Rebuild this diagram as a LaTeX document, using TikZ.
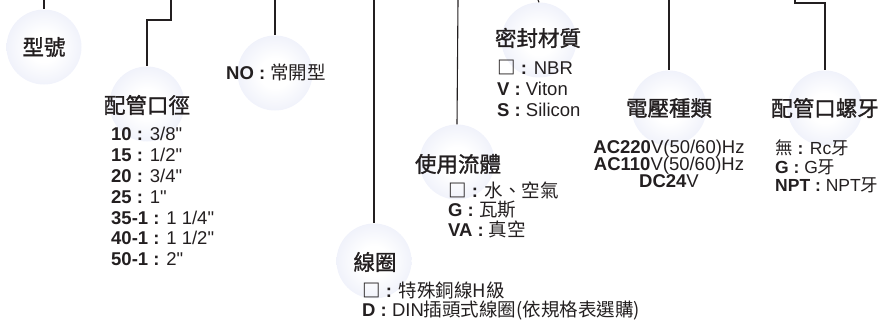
\documentclass[tikz,border=0pt]{standalone}
\usepackage{fontspec}
\setmainfont{Liberation Sans}
\newfontfamily\cjk{Noto Sans CJK TC}
\newfontfamily\cjkhead{Noto Sans CJK TC}[FakeBold=1.2]
\newfontfamily\inchfont{Liberation Sans}[Ligatures=ResetAll]
\usetikzlibrary{positioning}
\definecolor{ballblue}{RGB}{216,221,243}
\definecolor{inkgray}{RGB}{35,31,32}
\pgfdeclareradialshading{ballshade}{\pgfpoint{0bp}{0bp}}{color(0bp)=(white); color(10bp)=(white); color(50bp)=(ballblue)}
\newcommand{\zh}[1]{{\cjk #1}}
\newcommand{\code}[1]{\textbf{#1 :} }
\newcommand{\inch}{{\inchfont\symbol{34}}}
\tikzset{
  ball/.style={circle, minimum size=75pt, inner sep=0pt, shading=ballshade},
  title/.style={font=\cjkhead\fontsize{21.5}{24}\selectfont, text=inkgray, inner sep=0pt},
  item/.style={font=\fontsize{18.5}{20}\selectfont, text=inkgray, inner sep=0pt,
    text height=13pt, text depth=3pt},
  wire/.style={draw=inkgray, line width=1.1pt}
}
\begin{document}
\begin{tikzpicture}[x=1pt, y=-1pt]
    \useasboundingbox (0,0) rectangle (885,322);
    % Draw balls
    \node[ball] (b1) at (44,47) {};
    \node[ball] (b2) at (147,104) {};
    \node[ball] (b3) at (275,73) {};
    \node[ball] (b4) at (374,261) {};
    \node[ball] (b5) at (457,162) {};
    \node[ball] (b6) at (539,40) {};
    \node[ball] (b7) at (669,108) {};
    \node[ball] (b8) at (825,108) {};
    % Draw wires from the top edge
    \coordinate (top1) at (44,0);
    \coordinate (top2) at (171,0);
    \coordinate (top3) at (275,0);
    \coordinate (top4) at (374,0);
    \coordinate (top5) at (458,0);
    \coordinate (top6) at (538,0);
    \coordinate (top7) at (669,0);
    \coordinate (top8) at (795,0);
    \draw[wire] (top1) -- (b1.north);
    \draw[wire] (top2) -- ++(0,20) -| (b2.north);
    \draw[wire] (top3) -- (b3.north);
    \draw[wire] (top4) -- (b4.north);
    \draw[wire] (top5) -- (b5.north);
    \draw[wire] (top6) -- (b6.north);
    \draw[wire] (top7) -- (b7.north);
    \draw[wire] (top8) -- ++(0,3) -| (b8.north);
    % Draw titles
    \node[title] (t1) at (44,47) {型號};
    \node[title] (t2) at (147,105) {配管口徑};
    \node[title] (t4) at (375,262) {線圈};
    \node[title] (t5) at (458,164) {使用流體};
    \node[title] (t6) at (538,38) {密封材質};
    \node[title] (t7) at (669,108) {電壓種類};
    \node[title] (t8) at (825,108) {配管口螺牙};
    % Draw option lists
    \foreach \txt [count=\i] in {{\code{10}3/8\inch}, {\code{15}1/2\inch}, {\code{20}3/4\inch},
        {\code{25}1\inch}, {\code{35-1}1 1/4\inch}, {\code{40-1}1 1/2\inch}, {\code{50-1}2\inch}}
      \node[item, anchor=base west] (size\i) at (111,120+20.8*\i) {\txt};
    \node[item, anchor=base] (no) at (276,79.5) {\code{NO}\zh{常開型}};
    \foreach \txt [count=\i] in {{\code{\zh{□}}NBR}, {\code{V}Viton}, {\code{S}Silicon}}
      \node[item, anchor=base west] (seal\i) at (497,53.5+21*\i) {\txt};
    \foreach \txt [count=\i] in {{\code{\zh{□}}\zh{水、空氣}}, {\code{G}\zh{瓦斯}}, {\code{VA}\zh{真空}}}
      \node[item, anchor=base west] (fluid\i) at (448,177.5+19.5*\i) {\txt};
    \foreach \txt [count=\i] in {{\code{\zh{□}}\zh{特殊銅線H級}}, {\code{D}DIN\zh{插頭式線圈(依規格表選購)}}}
      \node[item, anchor=base west] (coil\i) at (362,277.5+19.5*\i) {\txt};
    \foreach \txt [count=\i] in {{\textbf{AC220}V(50/60)Hz}, {\textbf{AC110}V(50/60)Hz}, {\textbf{DC24}V}}
      \node[item, anchor=base] (volt\i) at (669,136.5+17*\i) {\txt};
    \foreach \txt [count=\i] in {{\zh{無} \textbf{:} Rc\zh{牙}}, {\code{G}G\zh{牙}}, {\code{NPT}NPT\zh{牙}}}
      \node[item, font=\fontsize{17.5}{20}\selectfont, anchor=base west] (thread\i) at (775,136+18.5*\i) {\txt};
\end{tikzpicture}
\end{document}
